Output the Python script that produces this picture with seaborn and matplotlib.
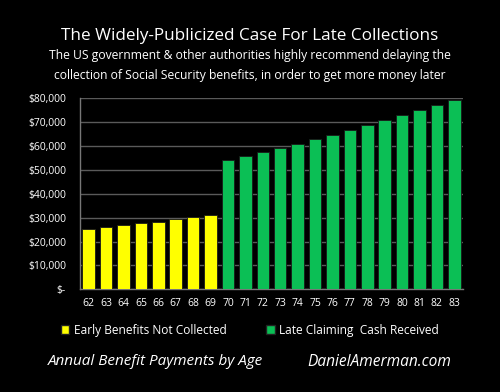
import numpy as np
import pandas as pd
import matplotlib
matplotlib.use("Agg")
import matplotlib.pyplot as plt
import seaborn as sns
from matplotlib.patches import Patch
from matplotlib.ticker import FuncFormatter, MultipleLocator

# ---- data ----
ages_early = [62, 63, 64, 65, 66, 67, 68, 69]
early_vals = [25100, 25900, 26800, 27600, 28200, 29300, 30200, 31000]
ages_late = [70, 71, 72, 73, 74, 75, 76, 77, 78, 79, 80, 81, 82, 83]
late_vals = [54200, 55700, 57400, 59200, 61000, 62800, 64700, 66600,
             68700, 70800, 72900, 75000, 77200, 79400]
groups = ["Early Benefits Not Collected", "Late Claiming  Cash Received"]

title = "The Widely-Publicized Case For Late Collections"
subtitle = ("The US government & other authorities highly recommend delaying the\n"
            "collection of Social Security benefits, in order to get more money later")
foot_left = "Annual Benefit Payments by Age"
foot_right = "DanielAmerman.com"

YELLOW = "#FFFF00"
GREEN = "#0BBF55"

df = pd.DataFrame({
    "age": [str(a) for a in ages_early + ages_late],
    "value": early_vals + late_vals,
    "group": [groups[0]] * len(ages_early) + [groups[1]] * len(ages_late),
})

sns.set_style("dark")
plt.rcParams["font.family"] = ["Open Sans", "DejaVu Sans"]

fig = plt.figure(figsize=(5, 3.92), dpi=100, facecolor="black")
ax = fig.add_axes([0.16, 0.262, 0.766, 0.487], facecolor="black")

sns.barplot(data=df, x="age", y="value", hue="group", dodge=False,
            palette={groups[0]: YELLOW, groups[1]: GREEN}, width=0.72,
            saturation=1, edgecolor="#1a1a1a", linewidth=0.6, legend=False,
            ax=ax, zorder=3)

ax.set_ylim(0, 80000)
ax.set_xlim(-0.5, len(df) - 0.5)
ax.yaxis.set_major_locator(MultipleLocator(10000))
ax.yaxis.set_major_formatter(FuncFormatter(lambda v, p: "$-" if v == 0 else f"${v:,.0f}"))
ax.grid(axis="y", color="#5a5a5a", linewidth=1.0, zorder=0)
ax.grid(axis="x", visible=False)
ax.set_axisbelow(True)

for s in ["top", "right"]:
    ax.spines[s].set_visible(False)
for s in ["left", "bottom"]:
    ax.spines[s].set_visible(True)
    ax.spines[s].set_color("#777777")
    ax.spines[s].set_linewidth(1.0)

ax.set_xticks(np.arange(-0.5, len(df), 1.0), minor=True)
ax.tick_params(axis="x", which="minor", length=4, color="#777777", width=1)
ax.tick_params(axis="x", which="major", length=0, pad=6, labelsize=7.5, labelcolor="white")
ax.tick_params(axis="y", length=0, pad=10, labelsize=7.5, labelcolor="white")
ax.set_xlabel("")
ax.set_ylabel("")

# legend
handles = [Patch(facecolor=YELLOW, edgecolor="#222222"),
           Patch(facecolor=GREEN, edgecolor="#222222")]
fig.legend(handles, groups, loc="center", bbox_to_anchor=(0.5, 0.158), ncol=2,
           frameon=False, fontsize=8.6, labelcolor="white", handlelength=0.7,
           handleheight=0.7, handletextpad=0.4, columnspacing=3.3)

fig.text(0.5, 0.908, title, ha="center", va="center", color="white", fontsize=12.3)
fig.text(0.5, 0.833, subtitle, ha="center", va="center", color="white",
         fontsize=8.7, linespacing=1.7)
fig.text(0.31, 0.077, foot_left, ha="center", va="center", color="white",
         fontsize=11, style="italic")
fig.text(0.758, 0.077, foot_right, ha="center", va="center", color="white",
         fontsize=11.2, style="italic")

fig.savefig("out.png", dpi=100, facecolor="black")
